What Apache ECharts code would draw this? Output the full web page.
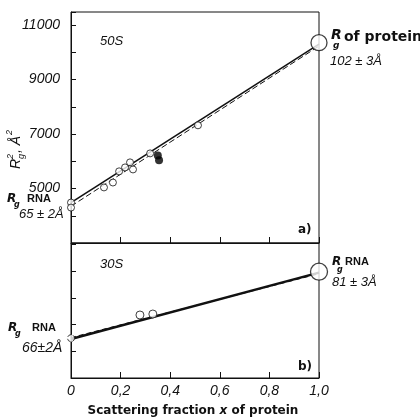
<!DOCTYPE html>
<html><head><meta charset="utf-8">
<script src="https://cdn.jsdelivr.net/npm/echarts@6/dist/echarts.min.js"></script>
<style>html,body{margin:0;padding:0;background:#fff}#c{width:420px;height:419px}</style>
</head><body><div id="c"></div>
<script>
// ---- data ----
const xTickLabels = ['0', '0,2', '0,4', '0,6', '0,8', '1,0'];
const yLabels50S = [5000, 7000, 9000, 11000];
const yLabels30S = [3000, 5000, 7000];
const points50S = [[0, 4485], [0, 4300], [0.133, 5040], [0.169, 5220], [0.194, 5630], [0.218, 5775], [0.238, 5960], [0.25, 5700], [0.319, 6290], [0.512, 7320]];
const filled50S = [[0.35, 6215], [0.355, 6040]];
const protein50S = [[1.0, 10353]];
const solidFit50S = [[0, 4480], [1, 10300]];
const dashFit50S = [[0, 4350], [1, 10230]];
const points30S = [[0.278, 4857], [0.33, 4894]];
const rnaPoint30S = [[0, 3990]];
const end30S = [[1.0, 6476]];
const solidFit30S = [[0, 3960], [1, 6440]];
const dashFit30S = [[0, 4010], [1, 6400]];

const INK = '#111';
const tickFont = { fontFamily: 'Liberation Sans, Arial, sans-serif', fontStyle: 'italic', fontSize: 14, color: INK };

function xAxisCfg(gi, showLabels) {
  return {
    type: 'value', gridIndex: gi, min: 0, max: 1, interval: 0.2,
    axisLine: { show: true, lineStyle: { color: INK, width: 1 } },
    axisTick: { show: true, inside: true, length: 6, lineStyle: { color: INK } },
    axisLabel: Object.assign({ show: showLabels, margin: 6,
      formatter: v => xTickLabels[Math.round(v / 0.2)] }, tickFont),
    splitLine: { show: false }
  };
}
function yAxisCfg(gi, min, max, labels) {
  return {
    type: 'value', gridIndex: gi, min: min, max: max, interval: 1000,
    axisLine: { show: true, lineStyle: { color: INK, width: 1 } },
    axisTick: { show: true, inside: true, length: 5, lineStyle: { color: INK } },
    axisLabel: Object.assign({ margin: 11, formatter: v => labels.includes(v) ? String(v) : '' }, tickFont),
    splitLine: { show: false }
  };
}
const openSym = { color: '#fff', borderColor: INK, borderWidth: 1 };

const T = (x, y, text, o) => ({ type: 'text', x: x, y: y, z: 50, style: Object.assign({
  text: text, fill: INK, fontFamily: 'Liberation Sans, Arial, sans-serif', fontSize: 13,
  align: 'left', verticalAlign: 'middle' }, o || {}) });
const bold = { fontFamily: 'DejaVu Sans, sans-serif', fontWeight: 'bold' };
const ital = { fontStyle: 'italic' };

const chart = echarts.init(document.getElementById('c'), null, { renderer: 'canvas' });
chart.setOption({
  animation: false,
  backgroundColor: '#fff',
  grid: [
    { left: 71, top: 12, width: 248, height: 231, show: true, borderColor: INK, borderWidth: 1, backgroundColor: 'transparent' },
    { left: 71, top: 243, width: 248, height: 135, show: true, borderColor: INK, borderWidth: 1, backgroundColor: 'transparent' }
  ],
  xAxis: [xAxisCfg(0, false), xAxisCfg(1, true)],
  yAxis: [yAxisCfg(0, 3000, 11480, yLabels50S), yAxisCfg(1, 2500, 7550, yLabels30S)],
  series: [
    { type: 'line', xAxisIndex: 0, yAxisIndex: 0, data: dashFit50S, symbol: 'none', z: 2,
      lineStyle: { color: INK, width: 1, type: [6, 3] } },
    { type: 'line', xAxisIndex: 0, yAxisIndex: 0, data: solidFit50S, symbol: 'none', z: 2,
      lineStyle: { color: INK, width: 1.6 } },
    { type: 'scatter', xAxisIndex: 0, yAxisIndex: 0, data: points50S, symbol: 'circle', symbolSize: 7, z: 5, itemStyle: openSym },
    { type: 'scatter', xAxisIndex: 0, yAxisIndex: 0, data: filled50S, symbol: 'circle', symbolSize: 8, z: 5, itemStyle: { color: '#000' } },
    { type: 'scatter', xAxisIndex: 0, yAxisIndex: 0, data: protein50S, symbol: 'circle', symbolSize: 16, z: 6,
      itemStyle: { color: '#fff', borderColor: INK, borderWidth: 1.3 } },

    { type: 'line', xAxisIndex: 1, yAxisIndex: 1, data: dashFit30S, symbol: 'none', z: 2,
      lineStyle: { color: INK, width: 1, type: [5, 3] } },
    { type: 'line', xAxisIndex: 1, yAxisIndex: 1, data: solidFit30S, symbol: 'none', z: 2,
      lineStyle: { color: INK, width: 2.4 } },
    { type: 'scatter', xAxisIndex: 1, yAxisIndex: 1, data: points30S, symbol: 'circle', symbolSize: 8, z: 5, itemStyle: openSym },
    { type: 'scatter', xAxisIndex: 1, yAxisIndex: 1, data: rnaPoint30S, symbol: 'circle', symbolSize: 7, z: 5,
      itemStyle: { color: '#fff', borderColor: INK, borderWidth: 1, borderType: 'dashed' } },
    { type: 'scatter', xAxisIndex: 1, yAxisIndex: 1, data: end30S, symbol: 'circle', symbolSize: 17, z: 6,
      itemStyle: { color: '#fff', borderColor: INK, borderWidth: 1.3 } }
  ],
  graphic: [
    T(100, 41, '50S', ital),
    T(100, 264, '30S', ital),
    // top right
    T(331, 35, 'R', Object.assign({ fontSize: 14, fontStyle: 'italic' }, bold)),
    T(333, 46, 'g', Object.assign({ fontSize: 9, fontStyle: 'italic' }, bold)),
    T(344, 37, 'of protein', Object.assign({ fontSize: 14 }, bold)),
    T(330, 61, '102 ± 3Å', ital),
    // top left
    T(7, 199, 'R', Object.assign({ fontSize: 12, fontStyle: 'italic' }, bold)),
    T(14, 205, 'g', Object.assign({ fontSize: 8, fontStyle: 'italic' }, bold)),
    T(27, 199, 'RNA', { fontFamily: 'Liberation Sans, Arial, sans-serif', fontWeight: 'bold', fontSize: 11 }),
    T(19, 214, '65 ± 2Å', ital),
    // bottom left
    T(8, 328, 'R', Object.assign({ fontSize: 12, fontStyle: 'italic' }, bold)),
    T(15, 334, 'g', Object.assign({ fontSize: 8, fontStyle: 'italic' }, bold)),
    T(32, 328, 'RNA', { fontFamily: 'Liberation Sans, Arial, sans-serif', fontWeight: 'bold', fontSize: 11 }),
    T(22, 348, '66±2Å', Object.assign({ fontSize: 14 }, ital)),
    // bottom right
    T(332, 262, 'R', Object.assign({ fontSize: 12, fontStyle: 'italic' }, bold)),
    T(337, 270, 'g', Object.assign({ fontSize: 8, fontStyle: 'italic' }, bold)),
    T(345, 262, 'RNA', { fontFamily: 'Liberation Sans, Arial, sans-serif', fontWeight: 'bold', fontSize: 11 }),
    T(332, 282, '81 ± 3Å', ital),
    // panel tags
    T(298, 230, 'a)', Object.assign({ fontSize: 12 }, bold)),
    T(298, 367, 'b)', Object.assign({ fontSize: 12 }, bold)),
    // x title
    { type: 'text', x: 193, y: 411, z: 50, style: {
      text: 'Scattering fraction {i|x} of protein', fill: INK, align: 'center', verticalAlign: 'middle',
      fontFamily: 'DejaVu Sans, sans-serif', fontWeight: 'bold', fontSize: 12,
      rich: { i: { fontFamily: 'DejaVu Sans, sans-serif', fontWeight: 'bold', fontStyle: 'italic', fontSize: 12, fill: INK } } } },
    // y title, rotated
    { type: 'group', x: 16, y: 148, rotation: Math.PI / 2, z: 50, children: [
      { type: 'text', x: -21, y: 0, style: { text: 'R', fill: INK, fontFamily: 'Liberation Sans, Arial, sans-serif', fontStyle: 'italic', fontSize: 14, verticalAlign: 'middle' } },
      { type: 'text', x: -11, y: -6, style: { text: '2', fill: INK, fontFamily: 'Liberation Sans, Arial, sans-serif', fontStyle: 'italic', fontSize: 9, verticalAlign: 'middle' } },
      { type: 'text', x: -11, y: 5, style: { text: 'g', fill: INK, fontFamily: 'Liberation Sans, Arial, sans-serif', fontStyle: 'italic', fontSize: 9, verticalAlign: 'middle' } },
      { type: 'text', x: -5, y: 0, style: { text: ', Å', fill: INK, fontFamily: 'Liberation Sans, Arial, sans-serif', fontStyle: 'italic', fontSize: 14, verticalAlign: 'middle' } },
      { type: 'text', x: 13, y: -7, style: { text: '2', fill: INK, fontFamily: 'Liberation Sans, Arial, sans-serif', fontStyle: 'italic', fontSize: 9, verticalAlign: 'middle' } }
    ] }
  ]
});
</script>
</body></html>
